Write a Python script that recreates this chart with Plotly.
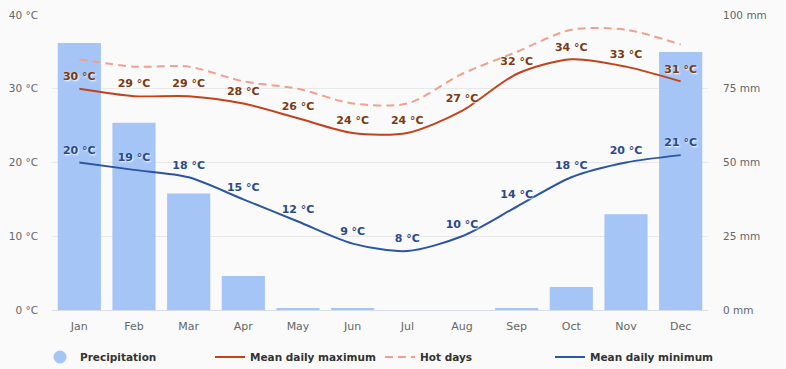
import plotly.graph_objects as go

months = ["Jan", "Feb", "Mar", "Apr", "May", "Jun", "Jul", "Aug", "Sep", "Oct", "Nov", "Dec"]
precip_mm = [90.5, 63.5, 39.5, 11.5, 0.7, 0.7, 0, 0, 0.7, 7.8, 32.5, 87.5]
mean_max = [30, 29, 29, 28, 26, 24, 24, 27, 32, 34, 33, 31]
hot_days = [34, 33, 33, 31, 30, 28, 28, 32, 35, 38, 38, 36]
mean_min = [20, 19, 18, 15, 12, 9, 8, 10, 14, 18, 20, 21]
temp_ticks = [0, 10, 20, 30, 40]
precip_ticks = [0, 25, 50, 75, 100]

FONT = "DejaVu Sans"
CLEAR = "rgba(0,0,0,0)"
BAR_COLOR = "#a6c5f7"

fig = go.Figure()
fig.add_trace(go.Bar(
    x=months, y=precip_mm, name="Precipitation", yaxis="y",
    marker=dict(color=BAR_COLOR, line=dict(width=0)),
    hoverinfo="skip", showlegend=False, legendgroup="p",
))
# legend-only entry so the precipitation key is drawn as a circle
fig.add_trace(go.Scatter(
    x=[None], y=[None], name="Precipitation", mode="markers", yaxis="y",
    marker=dict(symbol="circle", size=13, color=BAR_COLOR), legendgroup="p",
))
fig.add_trace(go.Scatter(
    x=months, y=mean_max, name="Mean daily maximum", mode="lines+markers+text", yaxis="y2",
    line=dict(color="#c4421a", width=2, shape="spline", smoothing=0.8),
    marker=dict(size=8, color=CLEAR, line=dict(width=0)),
    text=[f"{v} °C" for v in mean_max], textposition="top center",
    textfont=dict(family=FONT, size=11, color="#7a3a14", weight="bold",
                  shadow="1px 1px 2px white"),
))
fig.add_trace(go.Scatter(
    x=months, y=hot_days, name="Hot days", mode="lines", yaxis="y2",
    line=dict(color="#f0a08c", width=2, dash="8px,5px", shape="spline", smoothing=0.8),
))
fig.add_trace(go.Scatter(
    x=months, y=mean_min, name="Mean daily minimum", mode="lines+markers+text", yaxis="y2",
    line=dict(color="#2c55a2", width=2, shape="spline", smoothing=0.8),
    marker=dict(size=8, color=CLEAR, line=dict(width=0)),
    text=[f"{v} °C" for v in mean_min], textposition="top center",
    textfont=dict(family=FONT, size=11, color="#2a4a8c", weight="bold",
                  shadow="1px 1px 2px white"),
))

fig.update_layout(
    width=786, height=369,
    margin=dict(l=52, r=78, t=15, b=59, autoexpand=False),
    paper_bgcolor="#fafafa", plot_bgcolor="#fafafa",
    font=dict(family=FONT, size=11, color="#666666"),
    bargap=0.21,
    showlegend=True,
    legend=dict(
        orientation="h", x=-12 / 656, xref="paper", y=-47 / 295, yref="paper",
        xanchor="left", yanchor="middle", entrywidth=125,
        font=dict(family=FONT, size=10.5, color="#333333", weight="bold"),
        bgcolor="rgba(0,0,0,0)", traceorder="normal",
    ),
    xaxis=dict(
        type="category", range=[-0.5, 11.5], showgrid=False,
        showline=True, linecolor="#d8dce6", linewidth=1, automargin=False,
        ticks="", tickfont=dict(size=11, color="#666666"), fixedrange=True,
        ticklabelstandoff=6,
    ),
    yaxis=dict(
        range=[0, 100], tickvals=precip_ticks, ticktext=[f"{t} mm" for t in precip_ticks],
        side="right", showgrid=True, gridcolor="#e8e8e8", zeroline=False, automargin=False,
        tickfont=dict(size=10.5, color="#666666"), ticklabelstandoff=14,
    ),
    yaxis2=dict(
        range=[0, 40], tickvals=temp_ticks, ticktext=[f"{t} °C" for t in temp_ticks],
        overlaying="y", side="left", showgrid=False, zeroline=False, automargin=False,
        tickfont=dict(size=10.5, color="#666666"), ticklabelstandoff=13,
    ),
)

fig.write_html("out.html", config={"displayModeBar": False},
               post_script="document.body.style.margin='0';")
